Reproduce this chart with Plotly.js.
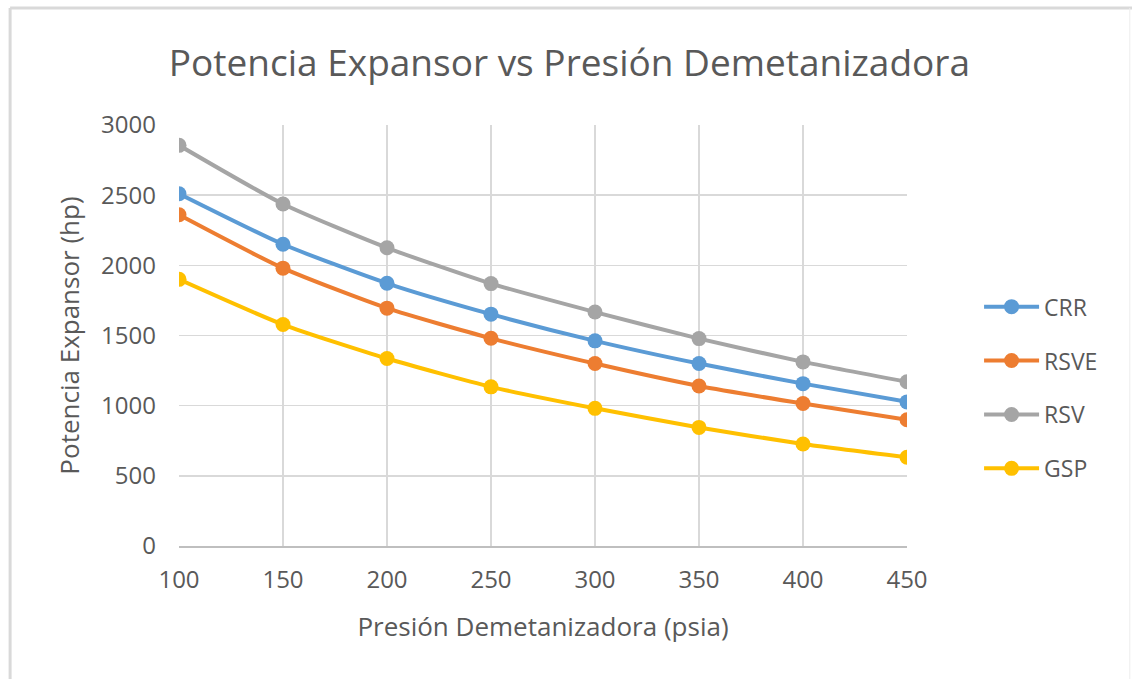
<!DOCTYPE html>
<html>
<head>
<meta charset="utf-8">
<script src="https://cdn.plot.ly/plotly-3.0.1.min.js"></script>
<style>html,body{margin:0;padding:0;background:#fff;}#chart{width:1132px;height:679px;}</style>
</head>
<body>
<div id="chart"></div>
<script>
const presion = [100, 150, 200, 250, 300, 350, 400, 450];
const CRR  = [2510, 2150, 1872, 1652, 1462, 1300, 1157, 1027];
const RSVE = [2360, 1980, 1695, 1480, 1300, 1140, 1015, 900];
const RSV  = [2855, 2437, 2125, 1870, 1667, 1478, 1312, 1170];
const GSP  = [1900, 1578, 1336, 1134, 981, 845, 727, 632];
const seriesNames = ['CRR', 'RSVE', 'RSV', 'GSP'];
const seriesData = [CRR, RSVE, RSV, GSP];
const colors = ['#5B9BD5', '#ED7D31', '#A5A5A5', '#FFC000'];

const font = '"Open Sans", "Liberation Sans", sans-serif';
const txt = '#595959';

const traces = seriesNames.map((n, i) => ({
  x: presion, y: seriesData[i], name: n, type: 'scatter', mode: 'lines+markers',
  legendgroup: n,
  line: {color: colors[i], width: 4, shape: 'spline', smoothing: 0.6},
  marker: {color: colors[i], size: 15}
}));

const layout = {
  width: 1132, height: 679,
  margin: {l: 179, r: 225, t: 125, b: 133},
  paper_bgcolor: '#fff', plot_bgcolor: '#fff',
  font: {family: font, color: txt},
  title: {text: 'Potencia Expansor vs Presión Demetanizadora', x: 0.503, xanchor: 'center', y: 0.907, yanchor: 'middle',
          font: {family: font, size: 37, color: txt}},
  xaxis: {range: [100, 450], tickvals: presion, ticktext: presion.map(String),
          showgrid: true, gridcolor: '#D9D9D9', gridwidth: 1.5, zeroline: false,
          showline: true, linecolor: '#BFBFBF', linewidth: 1.5, ticks: '',
          tickfont: {family: font, size: 24, color: txt}, ticklabelstandoff: 12,
          title: {text: 'Presión Demetanizadora (psia)', font: {family: font, size: 26, color: txt}, standoff: 23}},
  yaxis: {range: [0, 3000], dtick: 500, showgrid: true, gridcolor: '#D9D9D9', gridwidth: 1.5,
          zeroline: false, showline: false, ticks: '',
          tickfont: {family: font, size: 24, color: txt}, ticklabelstandoff: 22,
          title: {text: 'Potencia Expansor (hp)', font: {family: font, size: 26, color: txt}, standoff: 14}},
  legend: {x: 1.099, xanchor: 'left', y: 0.376, yanchor: 'middle', tracegroupgap: 21,
           font: {family: font, size: 23, color: txt}, bgcolor: 'rgba(0,0,0,0)', itemwidth: 55},
  showlegend: true,
  shapes: [
    {type: 'line', xref: 'paper', yref: 'paper', x0: -0.232, x1: 1.31, y0: 1.278, y1: 1.278, line: {color: '#D9D9D9', width: 3}},
    {type: 'line', xref: 'paper', yref: 'paper', x0: -0.232, x1: -0.232, y0: 1.278, y1: -0.32, line: {color: '#D9D9D9', width: 3}},
    {type: 'line', xref: 'paper', yref: 'paper', x0: 1.306, x1: 1.306, y0: 1.278, y1: -0.32, line: {color: '#EDEDED', width: 1}}
  ]
};

Plotly.newPlot('chart', traces, layout, {displayModeBar: false, staticPlot: true});
</script>
</body>
</html>
